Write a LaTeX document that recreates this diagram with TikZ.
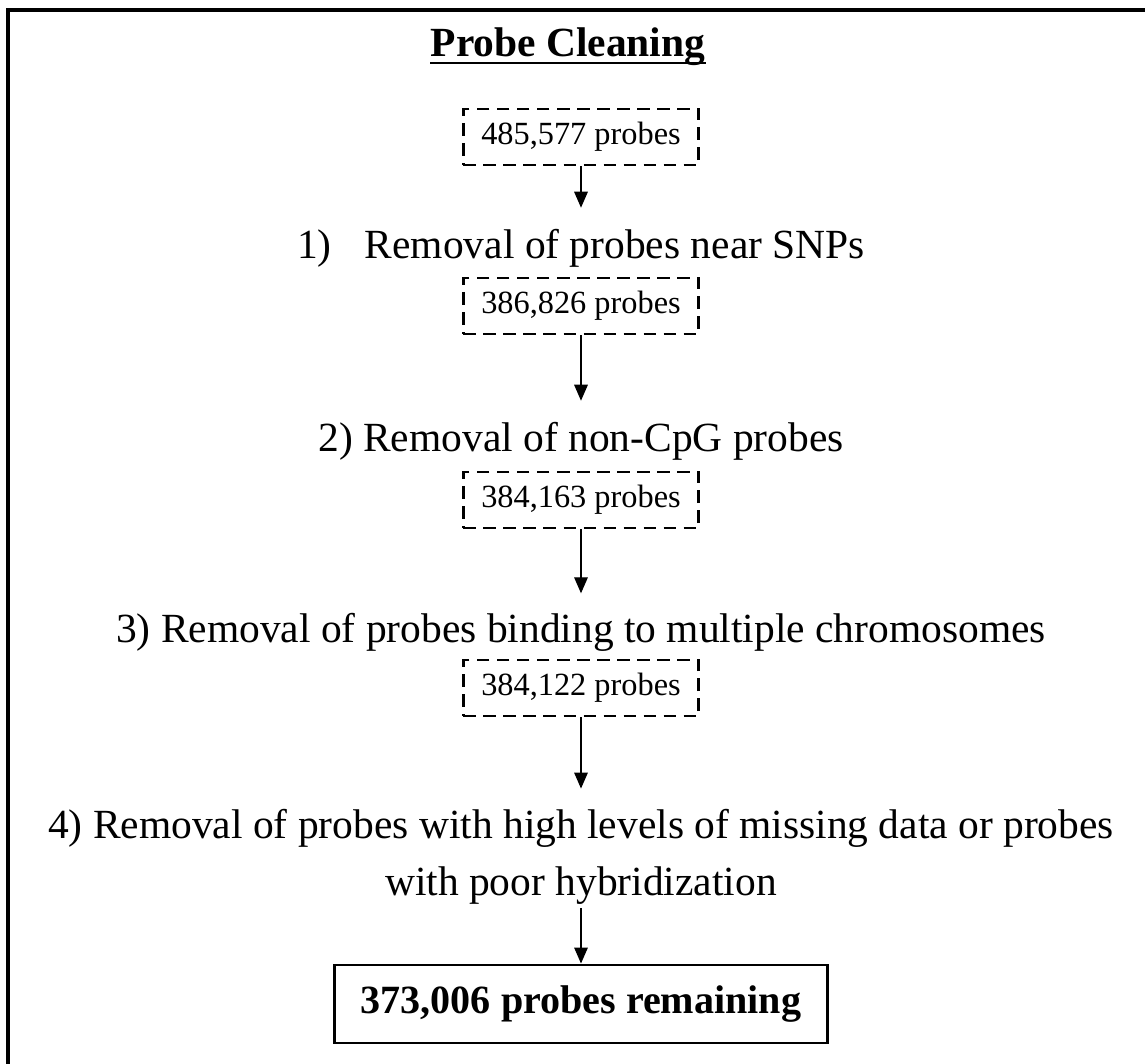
\documentclass[tikz,border=0pt]{standalone}
\usepackage{fontspec}
\setmainfont{Liberation Serif}
\usetikzlibrary{arrows.meta, positioning, calc}

\begin{document}
\begin{tikzpicture}[
x=0.025cm, y=-0.025cm,
count/.style={rectangle, draw=black, line width=1.6pt, dash pattern=on 0.32cm off 0.18cm, minimum width=5.875cm, minimum height=1.4cm, font=\fontsize{23}{27}\selectfont},
stage/.style={inner sep=0pt, anchor=base, align=center, font=\fontsize{29.5}{40.5}\selectfont},
result/.style={rectangle, draw=black, line width=2.1pt, minimum width=12.3cm, minimum height=1.95cm, font=\fontsize{28.5}{34}\selectfont\bfseries},
flow/.style={-{Triangle[length=0.4cm, width=0.34cm]}, line width=0.9pt}
]
\useasboundingbox (0,0) rectangle (1145,1064);
\draw[line width=2.2pt] (8,10) rectangle (1170,1090);

% Title
\node[stage, font=\fontsize{29.5}{35}\selectfont\bfseries] (title) at (568,57) {Probe Cleaning};
\draw[line width=1.4pt] ($(title.base west)+(0,6)$) -- ($(title.base east)+(0,6)$);

% Probe counts
\node[count] (c1) at (581,137) {485,577 probes};
\node[count] (c2) at (581,306) {386,826 probes};
\node[count] (c3) at (581,500) {384,163 probes};
\node[count] (c4) at (581,688) {384,122 probes};

% Cleaning steps
\node[stage] (s1) at (581,258) {1)\hspace{0.8em}Removal of probes near SNPs};
\node[stage] (s2) at (581,451) {2) Removal of non-CpG probes};
\node[stage] (s3) at (581,642) {3) Removal of probes binding to multiple chromosomes};
\node[stage] (s4) at (581,895) {4) Removal of probes with high levels of missing data or probes\\with poor hybridization};

% Result
\node[result] (final) at (581,1004) {373,006 probes remaining};

% Arrows
\draw[flow, shorten >=0.52cm] (c1.south) -- (c1.south |- s1.north);
\draw[flow, shorten >=0.52cm] (c2.south) -- (c2.south |- s2.north);
\draw[flow, shorten >=0.48cm] (c3.south) -- (c3.south |- s3.north);
\draw[flow, shorten >=0.5cm] (c4.south) -- (c4.south |- s4.north);
\draw[flow, shorten <=0.1cm] (s4.south) -- (final.north);

\end{tikzpicture}
\end{document}
